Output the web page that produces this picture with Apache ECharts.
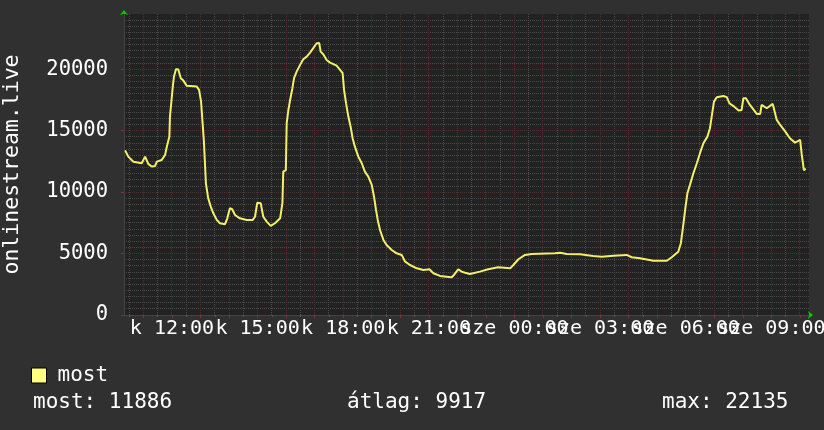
<!DOCTYPE html>
<html>
<head>
<meta charset="utf-8">
<script src="https://cdn.jsdelivr.net/npm/echarts@6/dist/echarts.min.js"></script>
<style>
html,body{margin:0;padding:0;background:#303030;}
#chart{width:824px;height:430px;}
</style>
</head>
<body>
<div id="chart"></div>
<script>
// time in hours since 00:00 of day "k" (kedd); values = viewers
const times = [10.36,10.47,10.65,10.94,11.06,11.17,11.29,11.41,11.47,11.64,11.76,11.82,11.91,11.93,11.99,12.03,12.07,12.14,12.22,12.31,12.40,12.52,12.87,12.95,13.02,13.08,13.12,13.19,13.27,13.36,13.45,13.57,13.68,13.86,13.94,14.03,14.11,14.21,14.38,14.62,14.83,14.91,14.99,15.11,15.20,15.32,15.46,15.61,15.79,15.87,15.90,15.99,16.02,16.08,16.14,16.22,16.28,16.37,16.49,16.60,16.72,16.84,16.95,17.07,17.16,17.21,17.30,17.42,17.54,17.77,17.89,17.98,18.03,18.10,18.18,18.26,18.33,18.41,18.53,18.65,18.76,18.88,19.00,19.08,19.15,19.21,19.29,19.41,19.52,19.70,19.87,20.05,20.17,20.34,20.58,20.81,21.02,21.16,21.39,21.63,21.80,21.88,22.03,22.15,22.27,22.44,22.79,23.08,23.43,23.85,23.96,24.14,24.37,24.61,25.42,25.60,25.83,26.30,26.76,27.06,27.46,27.93,28.11,28.40,28.87,29.34,29.51,29.74,29.83,29.90,29.98,30.06,30.15,30.27,30.39,30.50,30.62,30.76,30.85,30.91,30.99,31.09,31.32,31.44,31.53,31.70,31.85,31.96,32.02,32.11,32.25,32.49,32.61,32.66,32.84,33.05,33.19,33.31,33.49,33.65,33.83,34.01,34.06,34.14,34.21];
const viewers = [13400,12890,12480,12350,12890,12300,12080,12130,12480,12620,13030,13700,14520,16150,16290,18590,19400,20000,20000,19270,19080,18650,18590,18320,17370,17240,14110,10720,9500,8820,8280,7740,7470,7390,7870,8690,8610,8140,7870,7740,7740,8000,9140,9100,8000,7600,7250,7470,7870,9100,11670,11800,15610,16690,17500,18460,19300,19810,20360,20820,21030,21360,21720,22120,22135,21440,21220,20760,20540,20300,19950,19680,18320,17240,16150,15330,14390,13700,12890,12350,11670,11260,10590,9630,8550,7740,6920,6110,5700,5290,5020,4890,4340,4070,3800,3660,3720,3400,3180,3120,3070,3260,3720,3530,3440,3340,3530,3720,3880,3800,4070,4540,4890,4970,5020,5070,4970,4940,4800,4750,4830,4890,4700,4620,4420,4420,4700,5150,5840,7060,8550,9910,10590,11540,12350,13170,13980,14520,15200,16150,17370,17730,17830,17730,17240,16960,16640,16690,17650,17650,17100,16370,16370,17100,16830,17180,15880,15470,14930,14390,14030,14250,13170,11800,11886];

const seriesName = 'most';
const yTitle = 'onlinestream.live';
const xMin = 10.32, xMax = 34.32;
const yMin = 0, yMax = 24500;
const hourTicks = [11,12,13,14,15,16,17,18,19,20,21,22,23,24,25,26,27,28,29,30,31,32,33,34];
const halfHourTicks = [10.5,11.5,12.5,13.5,14.5,15.5,16.5,17.5,18.5,19.5,20.5,21.5,22.5,23.5,24.5,25.5,26.5,27.5,28.5,29.5,30.5,31.5,32.5,33.5];
const yMajorTicks = [0, 5000, 10000, 15000, 20000];
const yMinorTicks = [];
for (let v = 500; v < yMax; v += 500) if (v % 5000 !== 0) yMinorTicks.push(v);
// label groups (two groups so neighbouring labels may overlap like the original)
const labelHoursA = [12, 18, 24, 30];
const labelTextsA = ['k 12:00', 'k 18:00', 'sze 00:00', 'sze 06:00'];
const labelHoursB = [15, 21, 27, 33];
const labelTextsB = ['k 15:00', 'k 21:00', 'sze 03:00', 'sze 09:00'];
const statTexts = ['most: 11886', 'átlag: 9917', 'max: 22135'];

const FONT = 'DejaVu Sans Mono';
const MAJOR = '#5a2b2b';
const MINOR = '#4a4a4a';

function labelFmt(hours, texts) {
  return v => { const i = hours.indexOf(v); return i >= 0 ? texts[i] : ''; };
}
const xLabelStyle = {margin: 4, color: '#ffffff', fontFamily: FONT, fontSize: 20,
  hideOverlap: false, showMinLabel: true, showMaxLabel: true};

// grid lines drawn through the axis scales, snapped to whole pixels
function vLine(color) {
  return function (params, api) {
    const p = api.coord([api.value(0), yMin]);
    const cs = params.coordSys;
    const x = Math.round(p[0] - 0.5) + 0.5;
    return {type: 'line', silent: true,
      shape: {x1: x, y1: cs.y, x2: x, y2: cs.y + cs.height},
      style: {stroke: color, lineWidth: 1, lineDash: [1, 1], fill: null}};
  };
}
function hLine(color) {
  return function (params, api) {
    const p = api.coord([xMin, api.value(1)]);
    const cs = params.coordSys;
    const y = Math.round(p[1] - 0.5) + 0.5;
    return {type: 'line', silent: true,
      shape: {x1: cs.x, y1: y, x2: cs.x + cs.width, y2: y},
      style: {stroke: color, lineWidth: 1, lineDash: [1, 1], fill: null}};
  };
}
function gridSeries(name, data, render, z) {
  return {name: name, type: 'custom', xAxisIndex: 1, yAxisIndex: 0, data: data, renderItem: render,
    silent: true, z: z, clip: true, animation: false};
}

const chart = echarts.init(document.getElementById('chart'), null, {renderer: 'canvas'});
chart.setOption({
  backgroundColor: '#303030',
  animation: false,
  textStyle: {fontFamily: FONT},
  title: statTexts.map((t, i) => ({
    text: t,
    left: [33, 347, 662][i],
    top: 392,
    padding: 0,
    textStyle: {color: '#ffffff', fontFamily: FONT, fontSize: 21, fontWeight: 'normal'}
  })),
  legend: {
    left: 31, top: 365, padding: 0,
    itemWidth: 15, itemHeight: 15,
    data: [{name: seriesName, icon: 'rect', itemStyle: {color: '#ffff80', borderColor: '#000000', borderWidth: 1}}],
    textStyle: {color: '#ffffff', fontFamily: FONT, fontSize: 21, padding: [0, 0, 0, 6]}
  },
  grid: {left: 124, right: 15, top: 14, bottom: 115, show: true, backgroundColor: '#222222', borderWidth: 0,
    containLabel: false, outerBoundsMode: 'none'},
  xAxis: [{
    type: 'value', min: xMin, max: xMax, position: 'bottom',
    axisLine: {show: true, lineStyle: {color: '#444444', width: 1}},
    axisTick: {show: true, customValues: halfHourTicks, length: 2, lineStyle: {color: '#555555'}},
    axisLabel: Object.assign({show: true, customValues: labelHoursB, formatter: labelFmt(labelHoursB, labelTextsB)}, xLabelStyle),
    splitLine: {show: false}
  }, {
    type: 'value', min: xMin, max: xMax, position: 'bottom',
    axisLine: {show: true, symbol: ['none', 'arrow'], symbolSize: [6, 5], symbolOffset: [0, 4], lineStyle: {color: '#00cc00', width: 0}},
    axisTick: {show: true, customValues: hourTicks, length: 3, lineStyle: {color: '#7a3434'}},
    axisLabel: Object.assign({show: true, customValues: labelHoursA, formatter: labelFmt(labelHoursA, labelTextsA)}, xLabelStyle),
    splitLine: {show: false}
  }],
  yAxis: [{
    type: 'value', min: yMin, max: yMax, interval: 5000, position: 'left',
    name: yTitle, nameLocation: 'middle', nameGap: 101, nameRotate: 90,
    nameTextStyle: {color: '#ffffff', fontFamily: FONT, fontSize: 21.5},
    axisLine: {show: true, lineStyle: {color: '#444444', width: 1}},
    axisTick: {show: true, customValues: yMajorTicks, length: 3, lineStyle: {color: '#7a3434'}},
    axisLabel: {show: true, customValues: yMajorTicks, margin: 16, color: '#ffffff', fontFamily: FONT, fontSize: 20.5,
      formatter: v => String(v)},
    splitLine: {show: false}
  }, {
    type: 'value', min: yMin, max: yMax, position: 'left',
    axisLine: {show: true, symbol: ['none', 'arrow'], symbolSize: [6, 5], symbolOffset: [0, 4], lineStyle: {color: '#00cc00', width: 0}},
    axisTick: {show: false}, axisLabel: {show: false}, splitLine: {show: false}
  }],
  series: [
    gridSeries('minorV', halfHourTicks.map(h => [h, 0]), vLine(MINOR), 1),
    gridSeries('minorH', yMinorTicks.map(v => [xMin, v]), hLine(MINOR), 1),
    gridSeries('majorV', hourTicks.map(h => [h, 0]), vLine(MAJOR), 2),
    gridSeries('majorH', yMajorTicks.slice(1).map(v => [xMin, v]), hLine(MAJOR), 2),
    {
      name: seriesName, type: 'line', xAxisIndex: 1, yAxisIndex: 0,
      data: times.map((t, i) => [t, viewers[i]]),
      showSymbol: false, symbol: 'none',
      lineStyle: {color: '#f2f06a', width: 2},
      itemStyle: {color: '#f2f06a'},
      z: 5
    }
  ]
});
</script>
</body>
</html>
